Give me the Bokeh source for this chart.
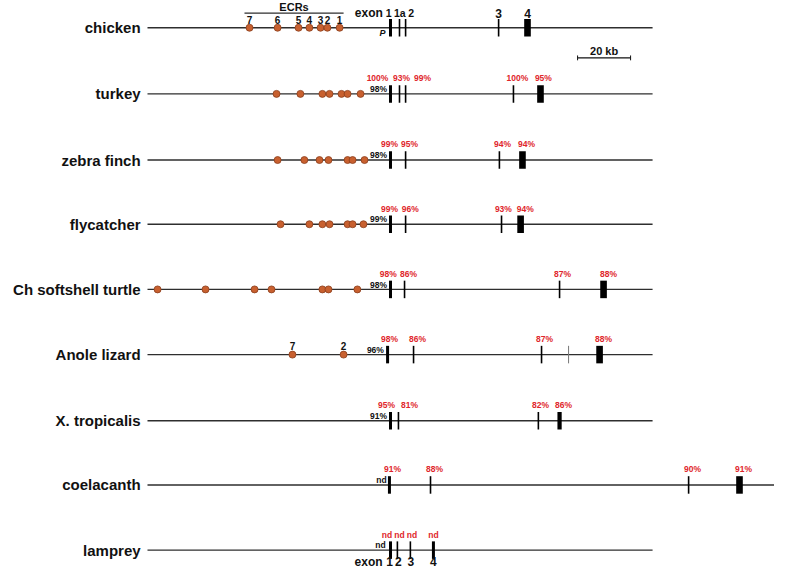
from bokeh.plotting import figure
from bokeh.models import Range1d, ColumnDataSource
from bokeh.core.properties import value
from bokeh.embed import file_html
from bokeh.resources import INLINE

# ---------------- data (positions in kb, exon 1 of chicken at 0) ----------------
species = ["chicken", "turkey", "zebra finch", "flycatcher", "Ch softshell turtle",
           "Anole lizard", "X. tropicalis", "coelacanth", "lamprey"]
locus_start = [-91.7, -91.7, -91.7, -91.7, -91.7, -91.7, -91.7, -91.7, -91.7]
locus_end = [98.9, 98.9, 98.9, 98.9, 98.9, 98.9, 98.9, 149.8, 98.9]

ecr_chicken = [-53.2, -42.6, -34.7, -30.6, -26.4, -23.8, -19.2]
ecr_chicken_ids = ["7", "6", "5", "4", "3", "2", "1"]
ecr_turkey = [-43.0, -34.0, -25.7, -23.0, -18.5, -16.2, -11.3]
ecr_zebra = [-42.6, -32.5, -26.8, -23.4, -16.2, -14.3, -9.8]
ecr_fly = [-41.5, -30.6, -25.7, -23.0, -16.2, -14.3, -10.2]
ecr_turtle = [-87.9, -69.8, -51.3, -44.9, -25.7, -23.4, -12.5]
ecr_anole = [-37.0, -17.7]
ecr_anole_ids = ["7", "2"]
ecr_sets = [ecr_chicken, ecr_turkey, ecr_zebra, ecr_fly, ecr_turtle, ecr_anole, [], [], []]

exons_chicken = [0.0, 3.4, 5.7, 40.8, 51.7]
kinds_chicken = ["thick", "thin", "thin", "thin", "box"]
exons_turkey = [0.0, 3.4, 5.7, 46.4, 56.6]
kinds_turkey = ["thick", "thin", "thin", "thin", "box"]
exons_zebra = [0.0, 5.7, 41.1, 49.8]
kinds_zebra = ["thick", "thin", "thin", "box"]
exons_fly = [0.0, 5.7, 41.9, 49.1]
kinds_fly = ["thick", "thin", "thin", "box"]
exons_turtle = [0.0, 5.3, 63.8, 80.4]
kinds_turtle = ["thick", "thin", "thin", "box"]
exons_anole = [-1.1, 8.7, 57.0, 67.2, 78.9]
kinds_anole = ["thick", "thin", "thin", "faint", "box"]
exons_xtrop = [0.0, 3.0, 55.8, 63.8]
kinds_xtrop = ["thick", "thin", "thin", "narrowbox"]
exons_coel = [-0.4, 15.1, 112.5, 131.7]
kinds_coel = ["thick", "thin", "thin", "box"]
exons_lamprey = [0.0, 2.6, 7.5, 16.2]
kinds_lamprey = ["thick", "thin", "thin", "thick"]
exon_sets = [exons_chicken, exons_turkey, exons_zebra, exons_fly, exons_turtle,
             exons_anole, exons_xtrop, exons_coel, exons_lamprey]
kind_sets = [kinds_chicken, kinds_turkey, kinds_zebra, kinds_fly, kinds_turtle,
             kinds_anole, kinds_xtrop, kinds_coel, kinds_lamprey]

# identity to chicken (red, above exons)
ident_turkey_x = [-4.9, 4.2, 12.1, 47.9, 57.7]
ident_turkey = ["100%", "93%", "99%", "100%", "95%"]
ident_zebra_x = [-0.4, 7.2, 42.3, 51.3]
ident_zebra = ["99%", "95%", "94%", "94%"]
ident_fly_x = [-0.4, 7.5, 42.6, 50.9]
ident_fly = ["99%", "96%", "93%", "94%"]
ident_turtle_x = [-0.8, 6.8, 64.9, 82.3]
ident_turtle = ["98%", "86%", "87%", "88%"]
ident_anole_x = [-0.4, 10.2, 58.1, 80.4]
ident_anole = ["98%", "86%", "87%", "88%"]
ident_xtrop_x = [-1.5, 7.2, 56.6, 65.3]
ident_xtrop = ["95%", "81%", "82%", "86%"]
ident_coel_x = [0.8, 16.6, 114.0, 133.2]
ident_coel = ["91%", "88%", "90%", "91%"]
ident_lamprey_x = [-1.3, 3.4, 8.1, 16.2]
ident_lamprey = ["nd", "nd", "nd", "nd"]
ident_x_sets = [[], ident_turkey_x, ident_zebra_x, ident_fly_x, ident_turtle_x,
                ident_anole_x, ident_xtrop_x, ident_coel_x, ident_lamprey_x]
ident_sets = [[], ident_turkey, ident_zebra, ident_fly, ident_turtle,
              ident_anole, ident_xtrop, ident_coel, ident_lamprey]

# promoter identity (black, left of exon 1)
promoter_x = [None, -4.5, -4.5, -4.5, -4.5, -5.7, -4.5, -3.4, -3.8]
promoter_id = [None, "98%", "98%", "99%", "98%", "96%", "91%", "nd", "nd"]

chicken_exon_label_x = [-0.7, 3.5, 7.8, 40.8, 51.7]
chicken_exon_labels = ["1", "1a", "2", "3", "4"]
lamprey_exon_label_x = [-0.3, 3.0, 7.7, 16.2]
lamprey_exon_labels = ["1", "2", "3", "4"]
scale_kb = [70.6, 90.6]

# ---------------- layout / style ----------------
row_y = [28, 96, 164, 230, 297, 364, 432, 498, 565]
FONT = value("Liberation Sans")
BLACK = "#111111"
RED = "#e0262b"
LINE = "#2e2e2e"
DOT = "#c8602f"
DOT_EDGE = "#8a3d1c"

p = figure(width=774, height=572, output_backend="svg", toolbar_location=None,
           x_range=Range1d(-147.17, 144.91), y_range=Range1d(588, 0),
           min_border=0, min_border_left=0, min_border_right=0,
           min_border_top=0, min_border_bottom=0)
p.axis.visible = False
p.grid.visible = False
p.outline_line_color = None
p.background_fill_color = "white"
p.border_fill_color = "white"


def txt(xs, ys, texts, size, color=BLACK, align="center", style="bold", baseline="middle"):
    p.text(x=xs, y=ys, text=texts, text_font=FONT, text_font_size=value(size),
           text_font_style=style, text_color=color, text_align=align,
           text_baseline=baseline)


# locus lines
p.segment(x0=locus_start, y0=row_y, x1=locus_end, y1=row_y, line_color=LINE, line_width=1.4)

# species names
txt([-94.3] * len(species), row_y, species, "15px", align="right")

# ECR dots
dx, dy = [], []
for s, xs in enumerate(ecr_sets):
    for x in xs:
        dx.append(x)
        dy.append(row_y[s])
p.scatter(x=dx, y=dy, size=7, fill_color=DOT, line_color=DOT_EDGE, line_width=0.8)

# exons
seg = dict(x=[], y0=[], y1=[], w=[], c=[])
box = dict(x=[], y=[], w=[])
widths = {"thick": 3.0, "thin": 1.6, "faint": 1.0}
for s, (xs, ks) in enumerate(zip(exon_sets, kind_sets)):
    for x, k in zip(xs, ks):
        if k in widths:
            seg["x"].append(x)
            seg["y0"].append(row_y[s] - 9)
            seg["y1"].append(row_y[s] + 9)
            seg["w"].append(widths[k])
            seg["c"].append("#777777" if k == "faint" else "#000000")
        else:
            box["x"].append(x)
            box["y"].append(row_y[s])
            box["w"].append(2.5 if k == "box" else 1.6)
ss = ColumnDataSource(seg)
p.segment(x0="x", y0="y0", x1="x", y1="y1", line_width="w", line_color="c", source=ss)
bs = ColumnDataSource(box)
p.rect(x="x", y="y", width="w", height=18, fill_color="black", line_color=None, source=bs)

# identity labels
for s in range(len(species)):
    if ident_sets[s]:
        txt(ident_x_sets[s], [row_y[s] - 16] * len(ident_sets[s]), ident_sets[s], "8.5px", color=RED)
    if promoter_id[s]:
        txt([promoter_x[s]], [row_y[s] - 5], [promoter_id[s]], "8.5px")

# chicken header
ecr_line_x = [ecr_chicken[0] - 1.9, ecr_chicken[-1] + 1.5]
p.line(x=ecr_line_x, y=[13, 13], line_color=LINE, line_width=1.2)
txt([sum(ecr_line_x) / 2], [6.5], ["ECRs"], "11px")
txt(ecr_chicken, [20] * len(ecr_chicken), ecr_chicken_ids, "10px")
txt([-2.9], [13], ["exon"], "12px", align="right")
txt(chicken_exon_label_x[:3], [13] * 3, chicken_exon_labels[:3], "10.5px")
txt(chicken_exon_label_x[3:], [13] * 2, chicken_exon_labels[3:], "12px")
txt([-3.0], [33], ["P"], "9px", style="bold italic")

# anole ECR ids
txt(ecr_anole, [row_y[5] - 9] * 2, ecr_anole_ids, "10px")

# lamprey exon numbering
txt([-3.0], [577], ["exon"], "12px", align="right")
txt(lamprey_exon_label_x, [577] * 4, lamprey_exon_labels, "12px")

# scale bar
p.line(x=scale_kb, y=[59, 59], line_color=BLACK, line_width=1.3)
p.segment(x0=scale_kb, y0=[56.5, 56.5], x1=scale_kb, y1=[61.5, 61.5], line_color=BLACK, line_width=1.0)
txt([sum(scale_kb) / 2], [52], ["20 kb"], "11px")

open("out.html", "w").write(file_html(p, INLINE))
